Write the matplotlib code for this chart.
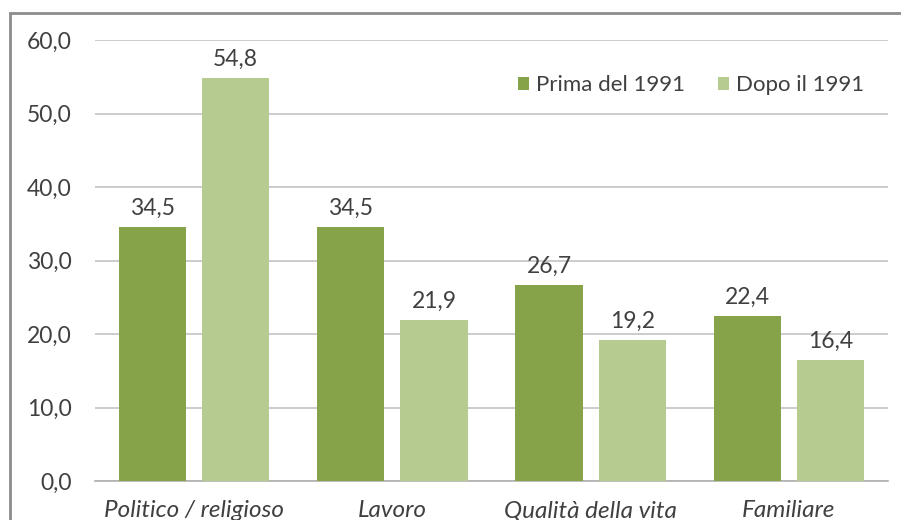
import matplotlib
matplotlib.use('Agg')
import matplotlib.pyplot as plt
from matplotlib.patches import Rectangle
import numpy as np

categories = ['Politico / religioso', 'Lavoro', 'Qualità della vita', 'Familiare']
prima = [34.5, 34.5, 26.7, 22.4]
dopo = [54.8, 21.9, 19.2, 16.4]
series_names = ['Prima del 1991', 'Dopo il 1991']
yticks = [0, 10, 20, 30, 40, 50, 60]

dark = '#86a34a'
light = '#b5cb8f'
txt = '#404040'

plt.rcParams['font.family'] = ['Lato', 'DejaVu Sans']

fig = plt.figure(figsize=(9.01, 5.20), dpi=100)
ax = fig.add_axes([95/901, 39/520, 793/901, 441/520])

x = np.arange(len(categories))
w = 0.34
off = 0.21
b1 = ax.bar(x - off, prima, w, color=dark, label=series_names[0], zorder=3)
b2 = ax.bar(x + off, dopo, w, color=light, label=series_names[1], zorder=3)

for bars in (b1, b2):
    for r in bars:
        v = r.get_height()
        ax.annotate('{:.1f}'.format(v).replace('.', ','),
                    (r.get_x() + r.get_width()/2, v), xytext=(0, 6),
                    textcoords='offset points', ha='center', va='bottom',
                    fontsize=16.5, color=txt)

ax.set_xlim(-0.5, 3.5)
ax.set_ylim(0, 60)
ax.set_yticks(yticks)
ax.set_yticklabels(['{:.1f}'.format(t).replace('.', ',') for t in yticks],
                   fontsize=16.5, color=txt)
ax.set_xticks(x)
ax.set_xticklabels(categories, fontsize=17.5, color=txt, style='italic')
ax.tick_params(axis='both', length=0)
ax.tick_params(axis='y', pad=17)
ax.tick_params(axis='x', pad=14)
ax.grid(axis='y', color='#c4c4c4', linewidth=1.2, zorder=0)
for s in ['top', 'right', 'left']:
    ax.spines[s].set_visible(False)
ax.spines['bottom'].set_color('#b0b0b0')
ax.spines['bottom'].set_linewidth(1.2)

ax.legend(loc='upper right', bbox_to_anchor=(0.995, 0.965), frameon=False,
          ncol=2, fontsize=16, handlelength=0.5, handleheight=0.5,
          handletextpad=0.3, columnspacing=1.5, labelcolor=txt)

# outer frame of the chart area
fig.patches.append(Rectangle((10/901, -0.05), 1.0, (520-13)/520 + 0.05,
                             transform=fig.transFigure, fill=False,
                             edgecolor='#8c8c8c', linewidth=2))

fig.savefig('out.png', dpi=100)
